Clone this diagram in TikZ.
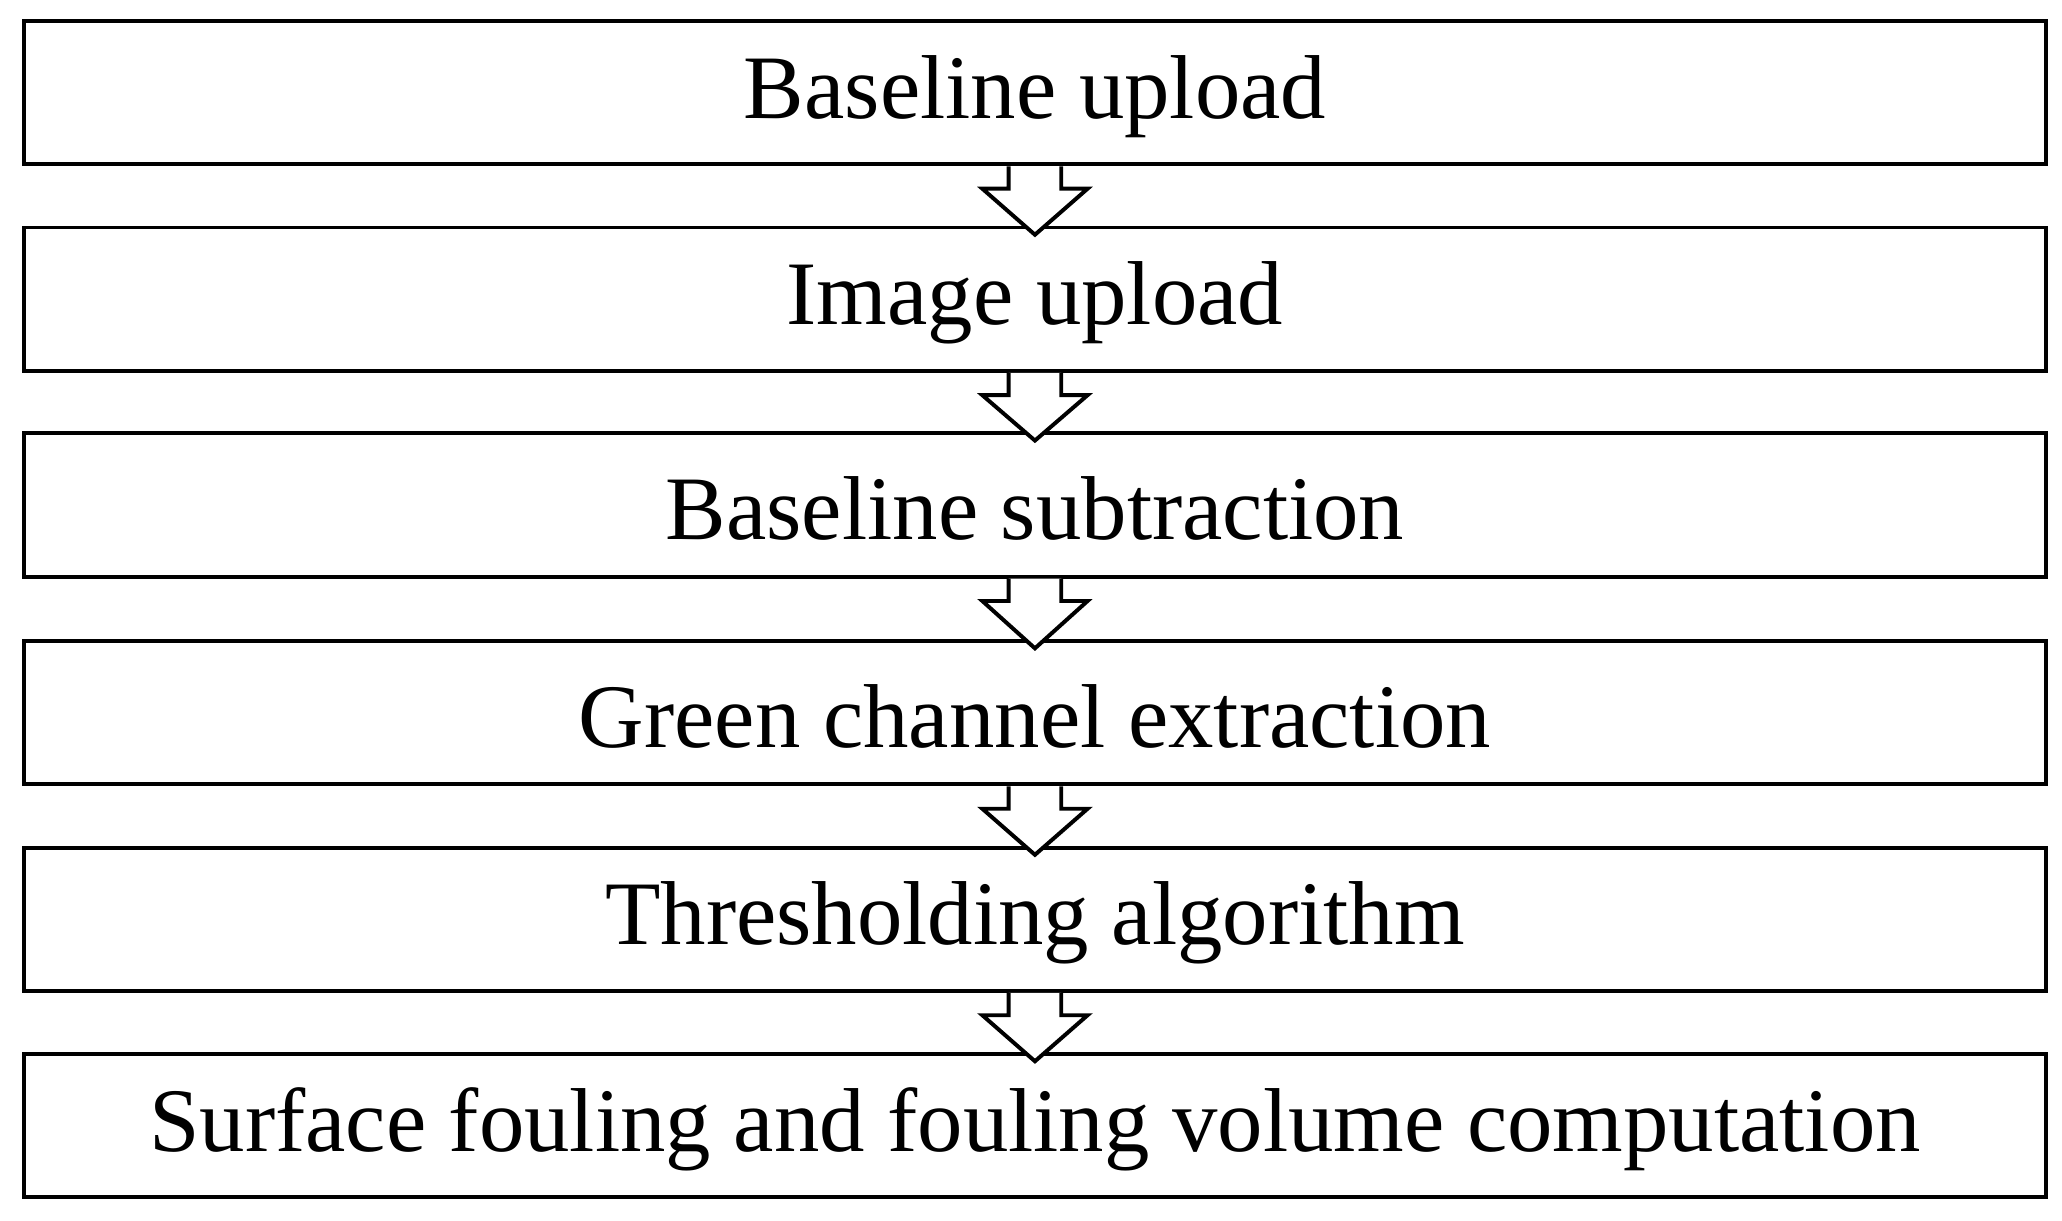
\documentclass[tikz,border=0pt]{standalone}
\usepackage{fontspec}
\setmainfont{Liberation Serif}
\begin{document}
\begin{tikzpicture}[x=0.5pt,y=-0.5pt,
 box/.style={draw,line width=1.5pt,minimum width=769pt,minimum height=54.5pt,inner sep=0pt,font=\fontsize{34.5}{40}\selectfont,fill=white},
 blk/.style={draw,line width=1.5pt,fill=white,line join=miter}]
\useasboundingbox (0,0) rectangle (1568,928);
\foreach \n/\y/\t in {1/70.5/Baseline upload,2/227.5/Image upload,3/384/Baseline subtraction,4/542/Green channel extraction,5/699/Thresholding algorithm,6/856/Surface fouling and fouling volume computation}{
  \node[box] (b\n) at (787,\y) {};
  \node[font=\fontsize{34.5}{40}\selectfont,inner sep=0pt] (t\n) at ([yshift=-1.5pt]b\n.center) {\t};
}
\foreach \a/\b in {1/2,2/3,3/4,4/5,5/6}{
  \draw[blk] ([xshift=-10pt]b\a.south) -- ([xshift=-10pt,yshift=-8.5pt]b\a.south)
    -- ([xshift=-20pt,yshift=-8.5pt]b\a.south) -- ([yshift=-3.5pt]b\b.north)
    -- ([xshift=20pt,yshift=-8.5pt]b\a.south) -- ([xshift=10pt,yshift=-8.5pt]b\a.south)
    -- ([xshift=10pt]b\a.south);
}
\end{tikzpicture}
\end{document}
